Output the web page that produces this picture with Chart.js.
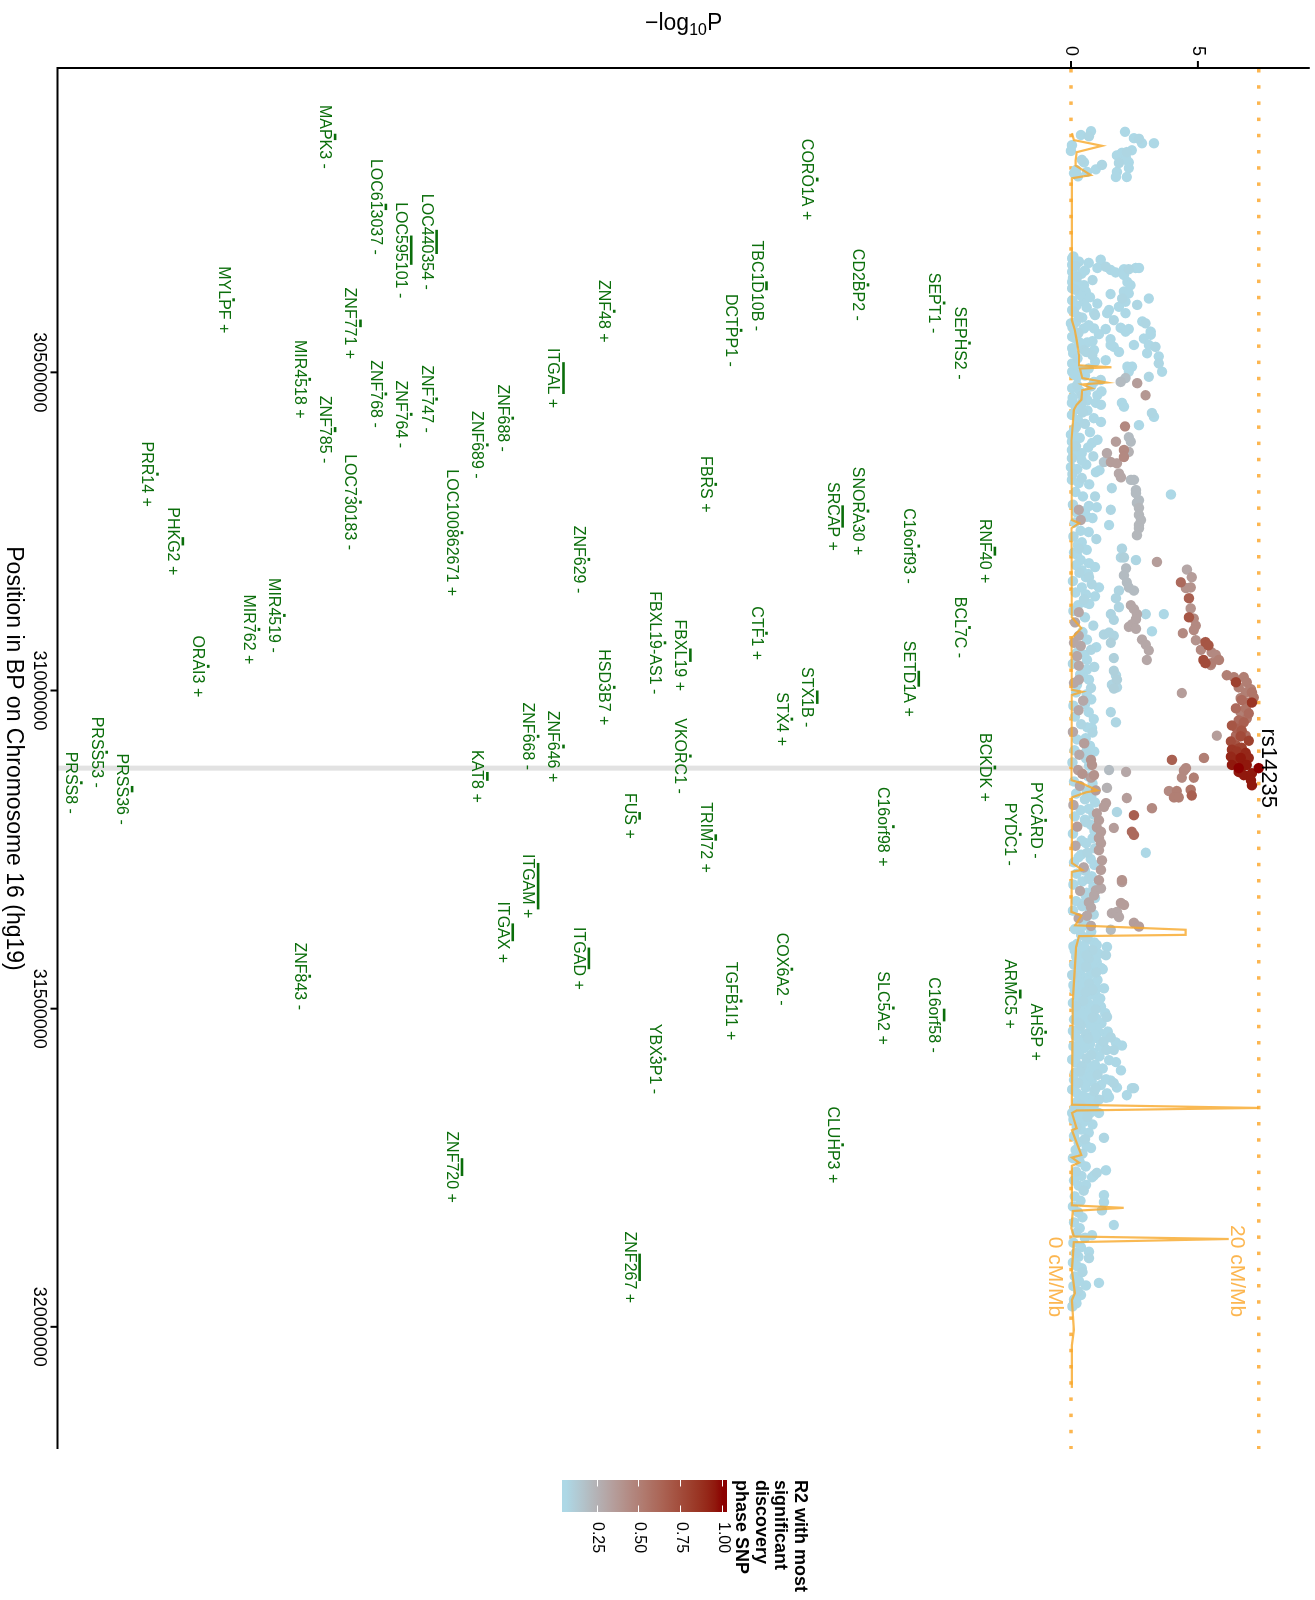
<!DOCTYPE html>
<html>
<head>
<meta charset="utf-8">
<script src="https://cdn.jsdelivr.net/npm/chart.js@4.4.1/dist/chart.umd.min.js"></script>
<style>
  html, body { margin: 0; padding: 0; background: #ffffff; width: 1315px; height: 1600px; overflow: hidden; }
  /* The plot is laid out landscape and turned a quarter turn clockwise onto the portrait page. */
  #wrap { position: absolute; left: 0; top: 0; width: 1600px; height: 1315px;
          transform-origin: 0 0; transform: translate(1315px, 0) rotate(90deg); }
  canvas { display: block; }
</style>
</head>
<body>
<div id="wrap"><canvas id="plot" width="1600" height="1315"></canvas></div>
<script>
// ---------------------------------------------------------------------------
// Axis ticks
// ---------------------------------------------------------------------------
const posTicks = [30.5, 31.0, 31.5, 32.0];                 // Mb
const posTickLabels = ['30500000', '31000000', '31500000', '32000000'];
const logPTicks = [0, 5];
const legendBreaks = [0.25, 0.50, 0.75, 1.00];
const legendBreakLabels = ['0.25', '0.50', '0.75', '1.00'];
const legendTitleLines = ['R2 with most', 'significant', 'discovery', 'phase SNP'];
const posAxisTitle = 'Position in BP on Chromosome 16 (hg19)';

// ---------------------------------------------------------------------------
// Lead SNP
// ---------------------------------------------------------------------------
const leadSnpName = 'rs14235';
const leadSnpPos = 31.122;      // Mb
const leadSnpLogP = 7.40;

// ---------------------------------------------------------------------------
// SNPs: [position (Mb), -log10P, r2 with the lead SNP]
// ---------------------------------------------------------------------------
const snpsCentromeric = [
  [30.127,0.39,0.06],[30.121,0.79,0.06],[30.129,0.71,0.07],[30.122,2.13,0.06],[30.132,2.48,0.06],
  [30.133,2.68,0.07],[30.140,2.80,0.06],[30.140,3.27,0.06],[30.143,0.04,0.06],[30.152,0.00,0.06],
  [30.166,0.43,0.07],[30.170,0.51,0.06],[30.159,1.81,0.06],[30.155,2.01,0.06],[30.154,2.20,0.07],
  [30.151,2.40,0.06],[30.163,2.17,0.06],[30.170,2.28,0.06],[30.171,1.89,0.07],[30.179,2.28,0.06],
  [30.185,1.81,0.06],[30.193,1.77,0.06],[30.193,2.20,0.06],[30.181,0.98,0.06],[30.174,1.22,0.07],
  [30.185,0.63,0.06],[30.187,0.12,0.06],[30.192,0.28,0.06],[30.182,0.20,0.06]
];

const snpsItgalBlock = [
  [30.321,0.05,0.06],[30.323,1.17,0.06],[30.336,1.04,0.06],[30.334,1.37,0.07],[30.339,1.56,0.06],
  [30.343,1.76,0.06],[30.338,2.09,0.06],[30.338,2.28,0.07],[30.336,2.55,0.06],[30.336,2.68,0.06],
  [30.331,0.05,0.06],[30.342,0.05,0.06],[30.350,0.25,0.07],[30.347,2.09,0.06],[30.358,2.22,0.06],
  [30.363,2.35,0.06],[30.358,0.05,0.06],[30.363,0.51,0.06],[30.368,0.05,0.07],[30.373,0.58,0.06],
  [30.373,2.09,0.06],[30.376,2.28,0.06],[30.377,1.56,0.06],[30.384,2.02,0.07],[30.384,3.07,0.06],
  [30.389,0.51,0.06],[30.392,1.04,0.06],[30.389,2.15,0.06],[30.394,2.61,0.07],[30.397,1.89,0.06],
  [30.402,1.50,0.06],[30.407,1.43,0.06],[30.407,0.91,0.06],[30.407,2.15,0.06],[30.402,0.05,0.06],
  [30.413,0.31,0.07],[30.423,0.00,0.06],[30.431,0.51,0.06],[30.431,0.91,0.06],[30.432,1.37,0.06],
  [30.418,1.69,0.07],[30.430,1.96,0.06],[30.432,2.28,0.06],[30.436,2.15,0.06],[30.420,2.81,0.06],
  [30.423,2.94,0.07],[30.436,3.14,0.06],[30.441,3.14,0.06],[30.447,2.87,0.06],[30.448,1.56,0.06],
  [30.457,3.07,0.06],[30.460,3.33,0.07],[30.457,2.48,0.06],[30.444,0.05,0.06],[30.452,0.31,0.06],
  [30.453,0.64,0.06],[30.465,0.51,0.07],[30.465,0.91,0.06],[30.460,1.69,0.06],[30.468,1.89,0.06],
  [30.457,1.56,0.06],[30.462,0.05,0.06],[30.473,0.84,0.07],[30.481,1.37,0.06],[30.470,3.00,0.06],
  [30.475,3.46,0.06],[30.486,3.46,0.07],[30.499,3.59,0.06],[30.491,2.22,0.06],[30.491,2.41,0.06],
  [30.499,2.28,0.06],[30.507,3.07,0.07],[30.486,0.05,0.06],[30.499,0.05,0.06],[30.507,0.25,0.06],
  [30.515,0.91,0.06],[30.512,1.17,0.07],[30.515,1.96,0.20],[30.509,2.15,0.18],[30.517,2.61,0.35],
  [30.536,2.94,0.38],[30.525,0.05,0.06],[30.533,0.58,0.06],[30.536,1.04,0.06],[30.536,0.44,0.07],
  [30.328,0.70,0.06],[30.340,0.55,0.06],[30.355,0.85,0.07],[30.366,0.40,0.06],[30.382,0.75,0.06],
  [30.398,0.62,0.06],[30.410,0.95,0.07],[30.426,0.70,0.06],[30.440,1.10,0.06],[30.451,0.85,0.06],
  [30.468,0.60,0.07],[30.483,0.95,0.06],[30.494,0.70,0.06],[30.505,0.55,0.06],[30.522,0.80,0.07],
  [30.530,1.20,0.06],[30.544,0.65,0.06]
];

const snpsSrcapBlock = [
  [30.548,0.04,0.06],[30.554,0.24,0.06],[30.548,0.43,0.07],[30.548,0.98,0.06],[30.551,1.18,0.06],
  [30.548,2.01,0.06],[30.554,2.09,0.06],[30.564,3.19,0.07],[30.570,3.27,0.06],[30.583,2.68,0.06],
  [30.585,2.13,0.45],[30.578,1.18,0.06],[30.567,0.04,0.06],[30.586,0.20,0.07],[30.598,0.00,0.06],
  [30.609,0.04,0.06],[30.622,0.04,0.06],[30.635,0.04,0.07],[30.649,0.00,0.06],[30.669,0.04,0.06],
  [30.609,1.77,0.35],[30.602,2.28,0.20],[30.609,2.36,0.20],[30.611,0.83,0.06],[30.627,0.43,0.06],
  [30.627,1.42,0.30],[30.641,1.57,0.35],[30.643,1.81,0.35],[30.622,2.09,0.45],[30.633,2.09,0.45],
  [30.625,2.28,0.25],[30.641,1.30,0.15],[30.659,1.89,0.30],[30.665,1.97,0.30],[30.657,0.98,0.06],
  [30.666,0.43,0.07],[30.669,2.36,0.20],[30.669,2.48,0.20],[30.682,1.61,0.07],[30.685,2.56,0.20],
  [30.690,2.56,0.20],[30.692,3.94,0.06],[30.701,2.68,0.20],[30.705,2.60,0.20],[30.713,2.68,0.22],
  [30.724,2.68,0.22],[30.732,2.76,0.22],[30.740,2.68,0.22],[30.745,2.68,0.22],[30.756,2.60,0.22],
  [30.710,0.71,0.06],[30.712,1.02,0.06],[30.716,1.57,0.07],[30.716,0.31,0.30],[30.732,0.39,0.30],
  [30.727,0.63,0.06],[30.740,1.50,0.06],[30.767,0.43,0.06],[30.777,0.31,0.07],[30.787,0.24,0.06],
  [30.795,0.39,0.06],[30.800,0.71,0.06],[30.777,2.01,0.08],[30.791,1.97,0.08],[30.791,2.09,0.10],
  [30.808,2.17,0.20],[30.819,2.09,0.20],[30.795,2.56,0.07],[30.798,3.39,0.35],[30.811,0.43,0.06],
  [30.822,0.59,0.06],[30.822,0.71,0.07],[30.838,1.10,0.06],[30.843,1.89,0.08],[30.855,1.77,0.08],
  [30.830,2.20,0.20],[30.838,2.28,0.20],[30.843,2.48,0.20],[30.838,0.43,0.06],[30.849,0.59,0.06],
  [30.857,0.51,0.07],[30.877,0.31,0.30],[30.862,0.59,0.06],[30.880,1.57,0.08],[30.889,1.69,0.08],
  [30.869,1.89,0.08],[30.866,2.36,0.30],[30.872,2.48,0.30],[30.880,2.60,0.30],[30.888,2.56,0.30],
  [30.896,2.40,0.30],[30.900,2.28,0.30],[30.903,2.56,0.30],[30.880,2.95,0.07],[30.880,3.66,0.06],
  [30.907,3.19,0.06],[30.912,1.30,0.08],[30.909,1.50,0.08],[30.914,1.69,0.08],[30.925,1.57,0.10],
  [30.920,2.80,0.30],[30.928,2.95,0.30],[30.937,3.07,0.30],[30.952,2.99,0.30],[30.949,1.69,0.10],
  [30.914,0.31,0.30],[30.930,0.39,0.30],[30.946,0.24,0.30],[30.920,0.63,0.06],[30.936,0.79,0.07],
  [30.952,0.63,0.06],[30.967,0.63,0.06],[30.969,1.69,0.10],[30.983,1.81,0.10],[30.983,0.71,0.06],
  [30.996,0.79,0.07],[30.997,1.69,0.10],[30.961,0.31,0.30],[30.983,0.31,0.30],[30.991,0.24,0.06],
  [31.004,4.37,0.35],
  [30.560,0.65,0.06],[30.572,0.90,0.06],[30.581,0.55,0.07],[30.594,0.75,0.06],[30.606,1.05,0.06],
  [30.618,0.68,0.06],[30.632,0.88,0.07],[30.645,0.60,0.06],[30.654,1.12,0.06],[30.676,0.72,0.06],
  [30.695,0.95,0.07],[30.718,0.55,0.06],[30.729,0.85,0.06],[30.751,0.70,0.06],[30.762,1.00,0.07],
  [30.779,0.62,0.06],[30.806,0.95,0.06],[30.817,0.68,0.06],[30.833,0.82,0.07],[30.852,0.95,0.06],
  [30.864,0.72,0.06],[30.885,0.55,0.06],[30.898,0.88,0.07],[30.932,1.00,0.06],[30.944,0.52,0.06],
  [30.963,0.92,0.07],[30.978,0.48,0.06]
];

const snpsAssociationPeak = [
  [30.810,4.57,0.30],[30.822,4.76,0.35],[30.830,4.33,0.60],[30.839,4.53,0.40],[30.838,4.72,0.40],
  [30.855,4.65,0.65],[30.871,4.72,0.40],[30.885,4.65,0.70],[30.887,4.84,0.45],[30.898,4.92,0.45],
  [30.905,4.84,0.45],[30.910,4.41,0.45],[30.921,4.92,0.40],[30.924,5.30,0.70],[30.929,5.42,0.70],
  [30.936,5.12,0.45],[30.940,5.54,0.45],[30.944,5.71,0.45],[30.952,5.22,0.75],[30.957,5.30,0.75],
  [30.957,5.54,0.50],[30.952,5.83,0.50],[30.960,5.51,0.45],[30.976,6.14,0.50],[30.979,6.42,0.50],
  [30.987,6.50,0.80],[30.979,6.81,0.50],[30.987,6.93,0.50],[30.995,6.61,0.50],[31.003,6.89,0.50],
  [31.003,7.13,0.55],[31.011,7.20,0.55],[31.012,6.69,0.50],[31.019,7.13,0.85],[30.998,7.09,0.50],
  [31.015,6.73,0.60],[31.019,6.93,0.55],[31.028,6.50,0.60],[31.034,6.69,0.50],[31.028,6.89,0.55],
  [31.036,7.01,0.60],[31.047,6.61,0.60],[31.050,6.81,0.65],[31.044,6.93,0.55],[31.055,6.34,0.70],
  [31.060,6.54,0.65],[31.063,6.73,0.70],[31.071,6.50,0.60],[31.072,6.69,0.75],[31.071,6.89,0.60],
  [31.079,7.01,0.80],[31.080,6.30,0.75],[31.086,6.50,0.70],[31.091,6.61,0.80],[31.093,6.34,0.85],
  [31.096,6.54,0.85],[31.090,6.73,0.80],[31.098,6.89,0.90],[31.104,6.30,0.90],[31.109,6.50,0.90],
  [31.106,6.69,0.95],[31.113,6.89,0.90],[31.106,7.01,0.90],[31.117,6.34,0.95],[31.122,6.61,1.00],
  [31.120,6.73,0.95],[31.117,6.93,0.95],[31.128,6.61,0.95],[31.133,6.81,0.95],[31.130,7.13,0.95],
  [31.141,7.09,0.95],[31.149,7.13,0.95],[31.122,7.40,1.00]
];

const snpsPeakShoulder = [
  [31.071,5.75,0.35],[31.106,5.24,0.50],[31.109,3.98,0.65],[31.122,4.53,0.45],[31.126,4.45,0.45],
  [31.137,4.37,0.45],[31.137,4.84,0.50],[31.158,3.86,0.45],[31.158,4.17,0.50],[31.156,4.72,0.55],
  [31.168,4.06,0.50],[31.168,4.25,0.50],[31.165,4.76,0.65],[31.185,3.19,0.45],[31.196,2.48,0.65],
  [31.222,2.40,0.60],[31.227,2.48,0.60],[31.298,2.01,0.40],[31.125,1.50,0.20],[31.128,2.17,0.30],
  [31.153,1.42,0.25],[31.169,2.20,0.35],[31.177,1.38,0.35],[31.183,1.30,0.35],[31.216,1.69,0.35],
  [31.255,2.95,0.06],[31.191,1.81,0.07],[31.109,0.79,0.40],[31.117,0.83,0.40],[31.133,0.91,0.40],
  [31.137,0.79,0.35],[31.157,0.98,0.35],[31.193,1.02,0.35],[31.204,1.10,0.35],[31.215,1.02,0.35],
  [31.222,1.18,0.35],[31.232,1.10,0.35],[31.240,1.18,0.35],[31.251,1.10,0.35],[31.267,1.22,0.35],
  [31.282,1.18,0.35],[31.298,1.10,0.35],[31.034,1.57,0.07],[31.050,1.77,0.07],[30.976,1.77,0.07],
  [30.991,1.61,0.08],[30.995,1.81,0.08],[31.059,0.83,0.06],[31.089,0.63,0.06],[31.097,0.59,0.07],
  [31.006,0.62,0.06],[31.014,0.80,0.06],[31.022,0.55,0.07],[31.034,0.70,0.06],[31.045,0.90,0.06],
  [31.058,0.65,0.06],[31.066,0.85,0.07],[31.075,0.58,0.06],[31.087,0.75,0.06],[31.096,0.92,0.06],
  [31.107,0.60,0.07],[31.118,0.72,0.06],[31.135,0.68,0.06],[31.146,0.85,0.06],[31.158,0.62,0.07],
  [31.167,0.80,0.06],[31.176,0.95,0.06],[31.186,0.70,0.06],[31.195,0.88,0.07],[31.203,0.55,0.06],
  [31.211,0.78,0.06],[31.220,0.92,0.06]
];

const snpsItgamBlock = [
  [31.301,2.01,0.35],[31.334,1.97,0.35],[31.337,2.09,0.35],[31.350,1.61,0.30],[31.348,1.81,0.30],
  [31.356,1.89,0.30],[31.365,2.48,0.35],[31.371,2.68,0.35],[31.333,0.71,0.30],[31.341,0.79,0.30],
  [31.354,0.63,0.30],[31.370,0.79,0.30],[31.322,0.91,0.30],[31.314,0.98,0.30],[31.311,1.18,0.30],
  [31.376,1.57,0.20],[31.232,0.85,0.06],[31.240,0.60,0.06],[31.248,0.95,0.07],[31.258,0.40,0.06],
  [31.265,0.78,0.06],[31.274,0.92,0.06],[31.283,0.55,0.07],[31.292,0.82,0.06],[31.300,0.45,0.06],
  [31.308,0.88,0.06],[31.318,0.62,0.07],[31.326,0.95,0.06],[31.335,0.40,0.06],[31.343,0.75,0.06],
  [31.352,0.90,0.07],[31.361,0.55,0.06],[31.370,0.48,0.06],[31.379,0.80,0.06],[31.388,0.65,0.07],
  [31.396,0.92,0.06]
];

const snpsTelomeric = [
  [31.400,1.02,0.06],[31.403,1.42,0.06],[31.416,1.38,0.07],[31.436,0.71,0.06],[31.427,1.02,0.06],
  [31.436,1.18,0.06],[31.471,0.83,0.07],[31.468,1.02,0.06],[31.479,0.98,0.06],[31.497,1.18,0.06],
  [31.513,1.42,0.07],[31.523,0.91,0.06],[31.537,1.10,0.06],[31.545,1.42,0.06],[31.545,1.57,0.07],
  [31.553,1.77,0.06],[31.558,2.01,0.06],[31.561,1.30,0.06],[31.565,1.69,0.07],[31.584,1.77,0.06],
  [31.597,1.97,0.06],[31.613,1.57,0.06],[31.617,1.69,0.07],[31.624,1.81,0.06],[31.636,2.20,0.06],
  [31.625,2.40,0.06],[31.625,2.48,0.07],[31.639,1.50,0.06],[31.640,1.38,0.06],[31.664,1.10,0.06],
  [31.703,1.30,0.07],[31.719,0.79,0.06],[31.762,0.91,0.06],[31.754,1.38,0.06],[31.765,0.83,0.06],
  [31.758,1.02,0.07],[31.777,0.59,0.06],[31.793,1.30,0.06],[31.804,1.30,0.06],[31.817,1.22,0.07],
  [31.840,1.69,0.06],[31.856,0.83,0.06],[31.882,0.71,0.06],[31.892,0.71,0.07],[31.908,0.43,0.06],
  [31.931,1.10,0.06],[31.935,0.59,0.06],[31.958,0.20,0.06]
];

// SNPs with little or no signal along the baseline
const snpsBaseline = [
  [30.318,0.10,0.06],[30.326,0.32,0.06],[30.333,0.18,0.07],[30.345,0.42,0.06],[30.352,0.08,0.06],
  [30.361,0.27,0.06],[30.370,0.15,0.07],[30.379,0.36,0.06],[30.387,0.05,0.06],[30.395,0.22,0.06],
  [30.405,0.12,0.07],[30.414,0.44,0.06],[30.421,0.20,0.06],[30.429,0.06,0.06],[30.438,0.30,0.07],
  [30.446,0.14,0.06],[30.455,0.38,0.06],[30.470,0.09,0.06],[30.478,0.26,0.07],[30.490,0.16,0.06],
  [30.497,0.40,0.06],[30.503,0.11,0.06],[30.520,0.24,0.07],[30.529,0.34,0.06],[30.540,0.07,0.06],
  [30.558,0.19,0.06],[30.563,0.46,0.07],[30.575,0.28,0.06],[30.591,0.12,0.06],[30.603,0.35,0.06],
  [30.616,0.20,0.07],[30.630,0.10,0.06],[30.638,0.42,0.06],[30.652,0.25,0.06],[30.660,0.06,0.07],
  [30.674,0.31,0.06],[30.688,0.18,0.06],[30.695,0.47,0.06],[30.708,0.08,0.07],[30.720,0.22,0.06],
  [30.736,0.15,0.06],[30.749,0.38,0.06],[30.758,0.10,0.07],[30.771,0.27,0.06],[30.783,0.12,0.06],
  [30.803,0.20,0.06],[30.815,0.33,0.07],[30.828,0.08,0.06],[30.846,0.18,0.06],[30.866,0.28,0.06],
  [30.875,0.10,0.07],[30.893,0.16,0.30],[30.908,0.45,0.06],[30.925,0.12,0.30],[30.941,0.22,0.06],
  [30.958,0.08,0.07],[30.975,0.36,0.06],[30.988,0.12,0.30],[31.003,0.20,0.06],[31.016,0.48,0.30],
  [31.024,0.10,0.06],[31.031,0.30,0.30],[31.041,0.16,0.06],[31.053,0.40,0.07],[31.065,0.08,0.30],
  [31.077,0.24,0.06],[31.083,0.52,0.35],[31.094,0.14,0.06],[31.101,0.33,0.30],[31.113,0.06,0.07],
  [31.125,0.28,0.35],[31.131,0.45,0.40],[31.143,0.12,0.06],[31.150,0.35,0.30],[31.162,0.20,0.06],
  [31.171,0.55,0.07],[31.180,0.10,0.30],[31.188,0.38,0.06],[31.198,0.15,0.06],[31.207,0.60,0.07],
  [31.214,0.25,0.35],[31.225,0.08,0.06],[31.236,0.42,0.06],[31.244,0.18,0.30],[31.255,0.65,0.07],
  [31.262,0.30,0.06],[31.270,0.12,0.06],[31.278,0.50,0.30],[31.288,0.22,0.06],[31.296,0.70,0.07],
  [31.305,0.10,0.06],[31.315,0.36,0.30],[31.322,0.58,0.06],[31.331,0.20,0.06],[31.339,0.44,0.07],
  [31.346,0.08,0.06],[31.358,0.30,0.30],[31.366,0.52,0.06],[31.375,0.15,0.06],[31.384,0.40,0.07],
  [31.392,0.62,0.06],[31.398,0.25,0.06]
];

// Dense block of weakly associated SNPs past ITGAD
const snpsDenseBlock = [
  [31.402,0.10,0.06],[31.405,0.55,0.06],[31.408,0.85,0.07],[31.411,0.32,0.06],[31.414,1.10,0.06],
  [31.418,0.20,0.06],[31.421,0.70,0.07],[31.424,0.45,0.06],[31.428,0.95,0.06],[31.431,0.12,0.06],
  [31.434,0.60,0.07],[31.438,1.25,0.06],[31.441,0.35,0.06],[31.444,0.80,0.06],[31.447,0.05,0.07],
  [31.451,0.50,0.06],[31.455,1.05,0.06],[31.458,0.25,0.06],[31.461,0.72,0.07],[31.465,0.40,0.06],
  [31.468,1.30,0.06],[31.471,0.15,0.06],[31.474,0.58,0.07],[31.478,0.88,0.06],[31.481,0.30,0.06],
  [31.484,1.15,0.06],[31.488,0.48,0.07],[31.491,0.08,0.06],[31.494,0.75,0.06],[31.498,0.36,0.06],
  [31.501,0.98,0.07],[31.504,0.22,0.06],[31.507,1.35,0.06],[31.511,0.55,0.06],[31.514,0.85,0.07],
  [31.517,0.12,0.06],[31.520,0.65,0.06],[31.523,1.20,0.06],[31.527,0.40,0.07],[31.530,0.90,0.06],
  [31.533,0.28,0.06],[31.536,1.45,0.06],[31.540,0.60,0.07],[31.543,0.18,0.06],[31.546,1.00,0.06],
  [31.549,0.45,0.06],[31.552,1.28,0.07],[31.556,0.75,0.06],[31.559,0.10,0.06],[31.562,0.52,0.06],
  [31.565,1.40,0.07],[31.569,0.88,0.06],[31.572,0.33,0.06],[31.575,1.12,0.06],[31.578,0.62,0.07],
  [31.581,1.50,0.06],[31.585,0.20,0.06],[31.588,0.95,0.06],[31.591,0.42,0.07],[31.594,1.25,0.06],
  [31.598,0.70,0.06],[31.601,0.15,0.06],[31.604,1.05,0.07],[31.607,0.50,0.06],[31.611,1.38,0.06],
  [31.614,0.82,0.06],[31.617,0.28,0.07],[31.620,1.18,0.06],[31.624,0.58,0.06],[31.627,0.05,0.06],
  [31.630,0.92,0.07],[31.633,1.42,0.06],[31.637,0.38,0.06],[31.640,0.72,0.06],[31.643,1.10,0.07],
  [31.646,0.25,0.06],[31.650,0.60,0.06],[31.653,0.90,0.06],[31.656,0.15,0.07],[31.659,0.48,0.06],
  [31.663,0.78,0.06],[31.666,0.30,0.06],[31.670,0.65,0.07],[31.674,0.10,0.06],[31.678,0.50,0.06],
  [31.682,0.85,0.06],[31.686,0.22,0.07],[31.690,0.40,0.06],[31.695,0.70,0.06],[31.700,0.12,0.06],
  [31.705,0.55,0.07],[31.710,0.30,0.06],[31.716,0.62,0.06],[31.722,0.18,0.06],[31.728,0.45,0.07],
  [31.735,0.08,0.06],[31.741,0.35,0.06],[31.748,0.58,0.06],[31.756,0.20,0.07],[31.763,0.42,0.06],
  [31.770,0.12,0.06],[31.778,0.30,0.06],[31.786,0.50,0.07],[31.795,0.15,0.06],[31.802,0.38,0.06],
  [31.811,0.08,0.06],[31.820,0.28,0.07],[31.828,0.45,0.06],[31.836,0.12,0.06],[31.845,0.35,0.06],
  [31.852,0.22,0.07],[31.860,0.55,0.06],[31.868,0.10,0.06],[31.875,0.40,0.06],[31.884,0.18,0.07],
  [31.890,0.30,0.06],[31.899,0.08,0.06],[31.905,0.25,0.06],[31.914,0.45,0.07],[31.921,0.15,0.06],
  [31.928,0.32,0.06],[31.936,0.10,0.06],[31.944,0.28,0.07],[31.950,0.40,0.06],[31.957,0.12,0.06],
  [31.963,0.22,0.06],[31.968,0.06,0.07],
  [31.403,0.40,0.06],[31.409,0.15,0.06],[31.416,0.62,0.07],[31.423,0.90,0.06],[31.429,0.30,0.06],
  [31.436,0.48,0.06],[31.443,1.00,0.07],[31.449,0.22,0.06],[31.456,0.68,0.06],[31.463,0.10,0.06],
  [31.470,0.85,0.07],[31.476,0.40,0.06],[31.483,0.62,0.06],[31.489,1.05,0.06],[31.496,0.20,0.07],
  [31.503,0.70,0.06],[31.509,0.42,0.06],[31.516,1.02,0.06],[31.522,0.30,0.07],[31.528,0.78,0.06],
  [31.535,0.08,0.06],[31.541,0.95,0.06],[31.547,0.68,0.07],[31.554,0.35,0.06],[31.560,1.15,0.06],
  [31.567,0.22,0.06],[31.573,0.80,0.07],[31.580,0.05,0.06],[31.586,0.60,0.06],[31.593,0.90,0.06],
  [31.599,0.35,0.07],[31.606,0.78,0.06],[31.612,0.12,0.06],[31.619,0.55,0.06],[31.625,0.98,0.07],
  [31.632,0.22,0.06],[31.638,0.50,0.06],[31.645,0.88,0.06],[31.651,0.38,0.07],[31.658,0.68,0.06],
  [31.664,0.05,0.06],[31.672,0.35,0.06]
];

// ---------------------------------------------------------------------------
// Recombination rate (cM/Mb) along the region
// ---------------------------------------------------------------------------
const recombPos = [
  30.124,30.135,30.144,30.154,30.167,30.175,30.190,30.195,30.418,30.433,30.449,30.473,30.489,30.492,
  30.494,30.509,30.516,30.519,30.525,30.528,30.543,30.551,30.559,30.607,30.732,30.737,30.745,30.885,
  30.902,30.918,30.999,31.002,31.007,31.141,31.146,31.157,31.160,31.168,31.271,31.282,31.285,31.348,
  31.354,31.369,31.376,31.384,31.386,31.403,31.486,31.640,31.651,31.656,31.660,31.664,31.688,31.691,
  31.730,31.734,31.742,31.747,31.809,31.813,31.818,31.845,31.858,31.862,31.867,31.911,31.947,31.958,
  32.005,32.029,32.096
];
const recombRate = [
  0.1,0.3,3.3,0.6,0.5,0.5,2.1,0.1,0.1,0.4,0.6,0.85,0.85,4.3,
  0.95,1.2,3.8,1.2,2.2,1.2,1.1,0.6,0.3,0.05,0.1,0.85,0.05,0.1,
  1.1,0.05,0.1,1.2,0.1,0.05,1.2,2.8,1.6,0.1,0.1,1.2,0.1,0.05,
  1.1,0.45,12.2,12.2,0.85,0.55,0.2,0.1,0.1,20.0,0.6,0.1,0.6,0.1,
  1.1,0.1,0.85,0.1,0.1,5.6,0.2,0.05,0.3,16.8,0.3,0.1,0.4,0.1,
  0.3,0.1,0.1
];
const recombMax = 20;              // cM/Mb drawn at the lead SNP's -log10P
const recombLabels = ['0 cM/Mb', '20 cM/Mb'];

// ---------------------------------------------------------------------------
// Genes: name, start/end (Mb), strand, track row
// ---------------------------------------------------------------------------
const geneNames = ['MAPK3','LOC613037','LOC440354','LOC595101','CORO1A','TBC1D10B','DCTPP1','CD2BP2','SEPT1','SEPHS2',
  'ZNF48','MYLPF','ZNF771','ITGAL','MIR4518','ZNF768','ZNF747','ZNF764','ZNF785','ZNF688',
  'ZNF689','PRR14','LOC730183','LOC100862671','FBRS','SNORA30','SRCAP','C16orf93','RNF40','PHKG2',
  'ZNF629','MIR4519','MIR762','FBXL19-AS1','FBXL19','CTF1','BCL7C','SETD1A','ORAI3','HSD3B7',
  'STX1B','STX4','VKORC1','ZNF668','ZNF646','BCKDK','KAT8','PRSS36','PRSS53','PRSS8',
  'FUS','TRIM72','C16orf98','PYCARD','PYDC1','ITGAM','ITGAX','ITGAD','COX6A2','ARMC5',
  'C16orf58','SLC5A2','TGFB1I1','ZNF843','AHSP','YBX3P1','CLUHP3','ZNF720','ZNF267'];
const geneStart = [30.125,30.235,30.276,30.285,30.194,30.357,30.432,30.360,30.389,30.452,
  30.402,30.384,30.417,30.484,30.510,30.532,30.540,30.564,30.586,30.570,
  30.612,30.658,30.702,30.750,30.674,30.717,30.709,30.771,30.774,30.759,
  30.792,30.881,30.903,30.923,30.934,30.908,30.899,30.969,30.960,30.993,
  31.000,31.043,31.101,31.070,31.085,31.118,31.128,31.150,31.095,31.143,
  31.191,31.226,31.212,31.202,31.224,31.271,31.366,31.404,31.436,31.470,
  31.500,31.497,31.486,31.447,31.535,31.577,31.712,31.735,31.885];
const geneEnd = [30.135,30.245,30.314,30.331,30.200,30.371,30.436,30.365,30.393,30.456,
  30.406,30.388,30.429,30.534,30.512,30.536,30.544,30.568,30.594,30.574,
  30.616,30.662,30.706,30.754,30.678,30.719,30.744,30.775,30.788,30.772,
  30.796,30.883,30.905,30.927,30.955,30.912,30.903,30.994,30.964,30.997,
  31.021,31.047,31.105,31.074,31.091,31.124,31.142,31.160,31.099,31.147,
  31.203,31.236,31.216,31.206,31.228,31.344,31.394,31.438,31.440,31.484,
  31.520,31.501,31.490,31.451,31.539,31.581,31.716,31.763,31.928];
const geneStrand = ['-','-','-','-','+','-','-','-','-','-',
  '+','+','+','+','+','-','-','-','-','-',
  '-','+','-','+','+','+','+','-','+','+',
  '-','-','+','-','+','+','-','+','+','+',
  '-','+','-','-','+','+','+','-','-','-',
  '+','+','+','-','-','+','+','+','-','+',
  '-','+','+','-','+','-','+','+','+'];
const geneRow = [29,27,25,26,10,12,13,8,5,4,
  18,33,28,20,30,27,25,26,29,22,
  23,36,28,24,14,8,9,6,3,35,
  19,31,32,16,15,12,4,6,34,18,
  10,11,15,21,20,3,23,37,38,39,
  17,14,7,1,2,21,22,19,11,2,
  5,7,13,30,1,16,9,24,17];

// ---------------------------------------------------------------------------
// Colour ramp (CIELAB interpolation, light blue to dark red)
// ---------------------------------------------------------------------------
const lowColour = [173, 216, 230];
const highColour = [139, 0, 0];

function toLinear(c) { c /= 255; return c <= 0.04045 ? c / 12.92 : Math.pow((c + 0.055) / 1.055, 2.4); }
function fromLinear(c) {
  const v = c <= 0.0031308 ? 12.92 * c : 1.055 * Math.pow(c, 1 / 2.4) - 0.055;
  return Math.round(Math.max(0, Math.min(1, v)) * 255);
}
function rgbToLab(rgb) {
  const R = toLinear(rgb[0]), G = toLinear(rgb[1]), B = toLinear(rgb[2]);
  const X = (R * 0.4124 + G * 0.3576 + B * 0.1805) / 0.95047;
  const Y = (R * 0.2126 + G * 0.7152 + B * 0.0722);
  const Z = (R * 0.0193 + G * 0.1192 + B * 0.9505) / 1.08883;
  const f = t => t > 0.008856 ? Math.cbrt(t) : (7.787 * t + 16 / 116);
  const fx = f(X), fy = f(Y), fz = f(Z);
  return [116 * fy - 16, 500 * (fx - fy), 200 * (fy - fz)];
}
function labToRgb(lab) {
  const fy = (lab[0] + 16) / 116, fx = fy + lab[1] / 500, fz = fy - lab[2] / 200;
  const inv = t => { const t3 = t * t * t; return t3 > 0.008856 ? t3 : (t - 16 / 116) / 7.787; };
  const X = inv(fx) * 0.95047, Y = inv(fy), Z = inv(fz) * 1.08883;
  const R = X * 3.2406 - Y * 1.5372 - Z * 0.4986;
  const G = -X * 0.9689 + Y * 1.8758 + Z * 0.0415;
  const B = X * 0.0557 - Y * 0.2040 + Z * 1.0570;
  return [fromLinear(R), fromLinear(G), fromLinear(B)];
}
const lowLab = rgbToLab(lowColour), highLab = rgbToLab(highColour);
function rampColour(t) {
  t = Math.max(0, Math.min(1, t));
  const lab = [0, 1, 2].map(i => lowLab[i] + (highLab[i] - lowLab[i]) * t);
  const c = labToRgb(lab);
  return 'rgb(' + c[0] + ',' + c[1] + ',' + c[2] + ')';
}

// ---------------------------------------------------------------------------
// Assemble the SNP dataset (low r2 drawn first so the peak sits on top)
// ---------------------------------------------------------------------------
const allSnps = [].concat(snpsCentromeric, snpsItgalBlock, snpsSrcapBlock, snpsBaseline,
  snpsPeakShoulder, snpsItgamBlock, snpsTelomeric, snpsDenseBlock, snpsAssociationPeak);
allSnps.sort((a, b) => a[2] - b[2]);
const r2Min = Math.min(...allSnps.map(s => s[2]));
const r2Max = Math.max(...allSnps.map(s => s[2]));
const r2ToT = r => (r - r2Min) / (r2Max - r2Min);
const snpPoints = allSnps.map(s => ({ x: s[0], y: s[1] }));
const snpColours = allSnps.map(s => rampColour(r2ToT(s[2])));

const recombScale = leadSnpLogP / recombMax;
const recombPoints = recombPos.map((p, i) => ({ x: p, y: recombRate[i] * recombScale }));

// ---------------------------------------------------------------------------
// Drawing
// ---------------------------------------------------------------------------
const FONT = '"Liberation Sans", Arial, Helvetica, sans-serif';
const ORANGE_LINE = 'rgba(247, 168, 40, 0.80)';
const ORANGE_DOTS = 'rgba(252, 182, 80, 1)';
const GENE_GREEN = '#0b6e0b';

const decorations = {
  id: 'locusDecorations',
  beforeDatasetsDraw(chart) {
    const ctx = chart.ctx, xs = chart.scales.x, ys = chart.scales.y, area = chart.chartArea;
    ctx.save();
    // lead SNP marker line
    const lx = xs.getPixelForValue(leadSnpPos);
    ctx.strokeStyle = '#e2e2e2';
    ctx.lineWidth = 5;
    ctx.beginPath();
    ctx.moveTo(lx, area.bottom);
    ctx.lineTo(lx, ys.getPixelForValue(leadSnpLogP));
    ctx.stroke();
    // recombination reference lines at 0 and 20 cM/Mb
    ctx.strokeStyle = ORANGE_DOTS;
    ctx.lineWidth = 3.5;
    ctx.setLineDash([3.5, 12.7]);
    [0, recombMax].forEach(r => {
      const y = ys.getPixelForValue(r * recombScale);
      ctx.beginPath();
      ctx.moveTo(area.left + 1, y);
      ctx.lineTo(area.right, y);
      ctx.stroke();
    });
    ctx.restore();
  },
  afterDatasetsDraw(chart) {
    const ctx = chart.ctx, xs = chart.scales.x, ys = chart.scales.y, area = chart.chartArea;
    ctx.save();
    ctx.setLineDash([]);

    // axis lines
    ctx.strokeStyle = '#000';
    ctx.lineWidth = 2;
    ctx.beginPath();
    ctx.moveTo(area.left, area.top);
    ctx.lineTo(area.left, area.bottom);
    ctx.lineTo(area.right, area.bottom);
    ctx.stroke();

    // position ticks
    ctx.fillStyle = '#000';
    ctx.font = '18px ' + FONT;
    ctx.textAlign = 'center';
    ctx.textBaseline = 'top';
    posTicks.forEach((t, i) => {
      const x = xs.getPixelForValue(t);
      ctx.beginPath();
      ctx.moveTo(x, area.bottom);
      ctx.lineTo(x, area.bottom + 7);
      ctx.stroke();
      ctx.fillText(posTickLabels[i], x, area.bottom + 10);
    });
    // -log10P ticks
    ctx.textAlign = 'right';
    ctx.textBaseline = 'middle';
    logPTicks.forEach(t => {
      const y = ys.getPixelForValue(t);
      ctx.beginPath();
      ctx.moveTo(area.left, y);
      ctx.lineTo(area.left - 7, y);
      ctx.stroke();
      ctx.fillText(String(t), area.left - 12, y);
    });

    // axis titles
    ctx.font = '23px ' + FONT;
    ctx.textAlign = 'center';
    ctx.textBaseline = 'alphabetic';
    ctx.fillText(posAxisTitle, (area.left + area.right) / 2, area.bottom + 50);

    ctx.save();
    ctx.translate(30, (area.top + area.bottom) / 2);
    ctx.rotate(-Math.PI / 2);
    const big = '23px ' + FONT, small = '16px ' + FONT;
    ctx.font = big; const w1 = ctx.measureText('\u2212log').width;
    ctx.font = small; const w2 = ctx.measureText('10').width;
    ctx.font = big; const w3 = ctx.measureText('P').width;
    let x0 = -(w1 + w2 + w3) / 2;
    ctx.textAlign = 'left';
    ctx.font = big; ctx.fillText('\u2212log', x0, 0);
    ctx.font = small; ctx.fillText('10', x0 + w1, 5);
    ctx.font = big; ctx.fillText('P', x0 + w1 + w2, 0);
    ctx.restore();

    // lead SNP name
    ctx.font = '22px ' + FONT;
    ctx.textAlign = 'center';
    ctx.textBaseline = 'alphabetic';
    ctx.fillText(leadSnpName, xs.getPixelForValue(leadSnpPos), ys.getPixelForValue(leadSnpLogP) - 3);

    // recombination scale labels
    ctx.fillStyle = ORANGE_DOTS;
    ctx.font = '21px ' + FONT;
    ctx.textAlign = 'right';
    const labelRight = xs.getPixelForValue(31.985);
    ctx.fillText(recombLabels[0], labelRight, ys.getPixelForValue(0) + 22);
    ctx.fillText(recombLabels[1], labelRight, ys.getPixelForValue(recombMax * recombScale) + 28);

    // gene track
    ctx.fillStyle = GENE_GREEN;
    ctx.font = '16px ' + FONT;
    ctx.textAlign = 'center';
    ctx.textBaseline = 'alphabetic';
    geneNames.forEach((name, i) => {
      let x1 = xs.getPixelForValue(geneStart[i]);
      let x2 = xs.getPixelForValue(geneEnd[i]);
      const mid = (x1 + x2) / 2;
      if (x2 - x1 < 3) { x1 = mid - 1.5; x2 = mid + 1.5; }
      const y = ys.getPixelForValue(-geneRow[i]);
      ctx.fillRect(x1, y - 1.3, x2 - x1, 2.6);
      ctx.fillText(name + ' ' + geneStrand[i], mid, y + 15);
    });

    // colour bar legend
    const barL = 1480, barW = 32, barTop = 588, barBot = 753, inset = 4;
    const valToY = v => barTop + inset + (r2Max - v) / (r2Max - r2Min) * (barBot - barTop - 2 * inset);
    const grad = ctx.createLinearGradient(0, valToY(r2Max), 0, valToY(r2Min));
    for (let k = 0; k <= 20; k++) grad.addColorStop(k / 20, rampColour(1 - k / 20));
    ctx.fillStyle = grad;
    ctx.fillRect(barL, barTop, barW, barBot - barTop);
    ctx.strokeStyle = '#ffffff';
    ctx.lineWidth = 1;
    legendBreaks.forEach(b => {
      const y = Math.round(valToY(b)) + 0.5;
      ctx.beginPath();
      ctx.moveTo(barL, y); ctx.lineTo(barL + 6.5, y);
      ctx.moveTo(barL + barW - 6.5, y); ctx.lineTo(barL + barW, y);
      ctx.stroke();
    });
    ctx.fillStyle = '#000';
    ctx.font = '16px ' + FONT;
    ctx.textAlign = 'left';
    ctx.textBaseline = 'middle';
    legendBreaks.forEach((b, i) => ctx.fillText(legendBreakLabels[i], barL + barW + 10, valToY(b)));
    ctx.font = 'bold 18px ' + FONT;
    ctx.textBaseline = 'alphabetic';
    legendTitleLines.forEach((line, i) => ctx.fillText(line, barL, 520 + i * 19.5));

    ctx.restore();
  }
};

new Chart(document.getElementById('plot'), {
  type: 'scatter',
  data: {
    datasets: [
      {
        label: 'recombination',
        data: recombPoints,
        showLine: true,
        borderColor: ORANGE_LINE,
        borderWidth: 2.2,
        pointRadius: 0,
        tension: 0,
        order: 0
      },
      {
        label: 'snps',
        data: snpPoints,
        pointRadius: 5.2,
        pointBorderWidth: 0,
        pointBackgroundColor: snpColours,
        backgroundColor: snpColours,
        borderWidth: 0,
        order: 1
      }
    ]
  },
  options: {
    responsive: false,
    animation: false,
    devicePixelRatio: 1,
    layout: { padding: { left: 68, right: 151, top: 4, bottom: 57.5 } },
    scales: {
      x: { type: 'linear', min: 30.0217, max: 32.192, display: false },
      y: { type: 'linear', min: -39.94, max: 9.41, display: false }
    },
    plugins: { legend: { display: false }, tooltip: { enabled: false } },
    events: []
  },
  plugins: [decorations]
});
</script>
</body>
</html>
